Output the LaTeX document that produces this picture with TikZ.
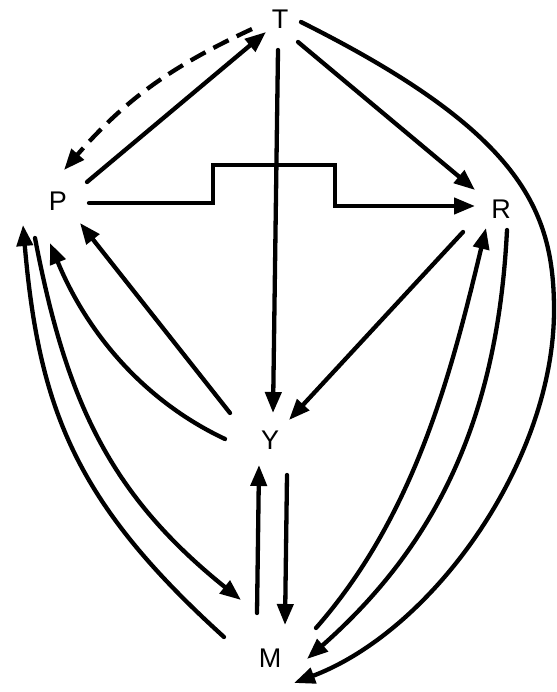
\documentclass[tikz,border=0pt]{standalone}
\usepackage{fontspec}
\setmainfont{Liberation Sans}
\usetikzlibrary{arrows.meta,calc}
\begin{document}
\begin{tikzpicture}[x=1pt,y=-1pt,
  lbl/.style={inner sep=0pt,font=\fontsize{27}{31}\selectfont},
  arr/.style={line width=4.3pt,line cap=round,-{Triangle[length=21pt,width=16pt]}},
  dsh/.style={arr,line cap=butt,dash pattern=on 17pt off 9pt}]
\useasboundingbox (0,0) rectangle (556,692);
\node[lbl] (T) at (280,19) {T};
\node[lbl] (P) at (58,201) {P};
\node[lbl] (R) at (501,209) {R};
\node[lbl] (Y) at (270,440) {Y};
\node[lbl] (M) at (270,658) {M};
% T - P
\draw[dsh] ($(T)+(-28,10)$) to[bend right=12] ($(P)+(6,-31)$);
\draw[arr] ($(P)+(29,-19)$) -- ($(T)+(-14,13)$);
% T - R, T - Y
\draw[arr] ($(T)+(18,23)$) -- ($(R)+(-26,-19)$);
\draw[arr] ($(T)+(-2,31)$) -- ($(Y)+(3,-27)$);
% step P -> R
\draw[arr] ($(P)+(31,2)$) -- (213,203) -- (213,165) -- (335,165) -- (335,206) -- ($(R)+(-26,-3)$);
% T -> M big curve
\draw[arr] ($(T)+(21,3)$) .. controls (521,132) and (554,210) .. (554,310)
  .. controls (554,460) and (434,630) .. ($(M)+(24,25)$);
% R -> Y
\draw[arr] ($(R)+(-38,23)$) -- ($(Y)+(19,-20)$);
% Y -> P
\draw[arr] ($(Y)+(-40,-27)$) -- ($(P)+(22,22)$);
\draw[arr] ($(Y)+(-45,-1)$) .. controls (138,398) and (84,326) .. ($(P)+(-8,42)$);
% M -> P, P -> M
\draw[arr] ($(M)+(-46,-21)$) .. controls (76,503) and (39,410) .. ($(P)+(-35,24)$);
\draw[arr] ($(P)+(-23,37)$) .. controls (66,400) and (109,494) .. ($(M)+(-29,-58)$);
% Y <-> M
\draw[arr] ($(M)+(-13,-45)$) -- ($(Y)+(-11,25)$);
\draw[arr] ($(Y)+(17,35)$) -- ($(M)+(15,-33)$);
% M <-> R
\draw[arr] ($(M)+(46,-30)$) .. controls (415,515) and (451,374) .. ($(R)+(-15,19)$);
\draw[arr] ($(R)+(6,21)$) .. controls (498,410) and (442,540) .. ($(M)+(37,1)$);
\end{tikzpicture}
\end{document}
